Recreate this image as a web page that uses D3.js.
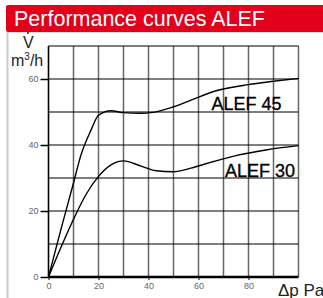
<!DOCTYPE html>
<html>
<head>
<meta charset="utf-8">
<script src="https://cdn.jsdelivr.net/npm/d3@7"></script>
<style>
  body { margin: 0; background: #fff; }
  svg { display: block; font-family: Arial, "Liberation Sans", sans-serif; }
</style>
</head>
<body>
<svg width="323" height="298"></svg>
<script>
// values (pressure Pa -> flow m3/h)
var alef45X = [0, 5, 10, 13, 17, 20, 25, 30, 37, 41, 50, 57, 66, 80, 90, 100];
var alef45Y = [0, 14.5, 28.5, 37, 44.5, 49, 50.4, 49.8, 49.6, 49.8, 51.6, 53.6, 56.2, 58.3, 59.3, 60.2];
var alef30X = [0, 5, 10, 15, 20, 25, 30, 37, 43, 50, 57, 66, 75, 87, 100];
var alef30Y = [0, 9, 17.5, 25, 30.5, 34, 35.2, 33.6, 32.2, 31.9, 33.0, 35.0, 36.8, 38.5, 39.8];
var xTicks = [0, 20, 40, 60, 80];
var yTicks = [0, 20, 40, 60];
var seriesNames = ["ALEF 45", "ALEF 30"];

var svg = d3.select("svg");

// header bar + left rule
svg.append("rect").attr("x", 6).attr("y", 5).attr("width", 330).attr("height", 27)
  .attr("rx", 2).attr("fill", "#e2001a");
svg.append("line").attr("x1", 7).attr("x2", 323).attr("y1", 32.5).attr("y2", 32.5)
  .attr("stroke", "#ddd").attr("stroke-width", 1);
svg.append("line").attr("x1", 7.5).attr("x2", 7.5).attr("y1", 32).attr("y2", 298)
  .attr("stroke", "#ccc").attr("stroke-width", 2);
svg.append("text").attr("x", 14).attr("y", 26).attr("fill", "#fff")
  .attr("font-size", 21.5).text("Performance curves ALEF");

var x = d3.scaleLinear().domain([0, 100]).range([48.5, 298.5]);
var y = d3.scaleLinear().domain([0, 70]).range([277, 46]);

var g = svg.append("g");

// grid
g.selectAll(".vg").data(d3.range(10, 101, 10)).enter().append("line")
  .attr("x1", d => x(d)).attr("x2", d => x(d)).attr("y1", y(0)).attr("y2", y(70))
  .attr("stroke", "#666").attr("stroke-width", 1.5);
g.selectAll(".hg").data(d3.range(10, 71, 10)).enter().append("line")
  .attr("x1", x(0)).attr("x2", x(100)).attr("y1", d => y(d)).attr("y2", d => y(d))
  .attr("stroke", "#000").attr("stroke-width", 1.2);

// axes
var yAxis = d3.axisLeft(y).tickValues(yTicks).tickSize(8).tickPadding(2);
var xAxis = d3.axisBottom(x).tickValues(xTicks).tickSize(3).tickPadding(3);

var ya = g.append("g").attr("transform", "translate(" + x(0) + ",0)").call(yAxis);
var xa = g.append("g").attr("transform", "translate(0," + y(0) + ")").call(xAxis);
[ya, xa].forEach(function (a) {
  a.select(".domain").remove();
  a.selectAll("text").attr("fill", "#666").attr("font-size", 9)
    .style("font-family", "Arial, 'Liberation Sans', sans-serif");
  a.selectAll(".tick line").attr("stroke", "#000");
});
ya.selectAll(".tick line").attr("stroke-width", 1.5);

g.append("line").attr("x1", x(0)).attr("x2", x(0)).attr("y1", y(0)).attr("y2", y(70))
  .attr("stroke", "#000").attr("stroke-width", 1.6);
g.append("line").attr("x1", x(0)).attr("x2", x(100)).attr("y1", y(0)).attr("y2", y(0))
  .attr("stroke", "#000").attr("stroke-width", 2.5);

// curves
var line = d3.line().x(d => x(d[0])).y(d => y(d[1])).curve(d3.curveMonotoneX);
[d3.zip(alef45X, alef45Y), d3.zip(alef30X, alef30Y)].forEach(function (pts) {
  g.append("path").datum(pts).attr("d", line)
    .attr("fill", "none").attr("stroke", "#000").attr("stroke-width", 1.4);
});

// curve labels
g.append("text").attr("x", x(65.2)).attr("y", y(50.6)).attr("font-size", 18)
  .attr("fill", "#000").attr("stroke", "#000").attr("stroke-width", 0.3).text(seriesNames[0]);
g.append("text").attr("x", x(70.6)).attr("y", y(30.3)).attr("font-size", 18)
  .attr("fill", "#000").attr("stroke", "#000").attr("stroke-width", 0.3).text(seriesNames[1]);

// axis titles
svg.append("text").attr("x", 23).attr("y", 47.5).attr("font-size", 16).attr("fill", "#222").text("V");
svg.append("circle").attr("cx", 28).attr("cy", 33).attr("r", 1).attr("fill", "#222");
var m = svg.append("text").attr("x", 11).attr("y", 66).attr("font-size", 16).attr("fill", "#222");
m.append("tspan").text("m");
m.append("tspan").attr("font-size", 10).attr("dy", -6).text("3");
m.append("tspan").attr("dy", 6).text("/h");
svg.append("text").attr("x", 278).attr("y", 296).attr("font-size", 17).attr("fill", "#222").text("Δp Pa");
</script>
</body>
</html>
